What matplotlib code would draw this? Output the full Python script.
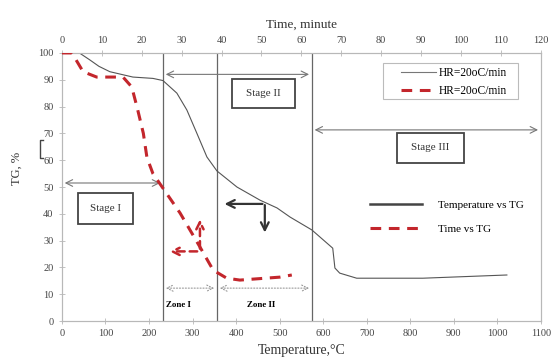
import matplotlib.pyplot as plt
from matplotlib.lines import Line2D
from matplotlib.patches import Rectangle

# temperature vs TG (bottom axis)
temp_c = [0, 40, 64, 85, 110, 163, 209, 232, 264, 287, 310, 333, 356, 402,
          455, 494, 524, 574, 622, 627, 638, 677, 829, 1022]
tg_temp = [100, 100, 97.4, 95, 93, 91, 90.5, 89.7, 85, 78.7, 70, 61.2, 56, 50,
           45.1, 42.2, 38.8, 34, 27.2, 19.8, 17.9, 16, 16, 17.2]

# time vs TG (top axis)
time_min = [0, 2.5, 5.3, 8.7, 15.3, 17.5, 19, 20.4, 21.3, 22.8, 25.3, 29.6,
            34.6, 37.9, 41.3, 44.6, 54.6, 57.6]
tg_time = [100, 100, 93, 91, 91, 87.3, 78.7, 70, 61, 55, 49.6, 40.3,
           27.6, 19, 16, 15.3, 16.4, 17.2]

stage_bounds = [232, 356, 574]
stage_names = ['Stage I', 'Stage II', 'Stage III']
zone_names = ['Zone I', 'Zone II']
temp_ticks = list(range(0, 1101, 100))
time_ticks = list(range(0, 121, 10))
tg_ticks = list(range(0, 101, 10))

RED = '#c3262c'
GRAY = '#b8b8b8'
plt.rcParams['font.family'] = ['Liberation Serif', 'DejaVu Serif']

fig = plt.figure(figsize=(5.53, 3.6), dpi=100)
ax = fig.add_axes([0.112, 0.108, 0.866, 0.745])
ax2 = ax.twiny()

ax.set_xlim(0, 1100)
ax.set_ylim(0, 100)
ax2.set_xlim(0, 120)

for a in (ax, ax2):
    for s in a.spines.values():
        s.set_color(GRAY)
        s.set_linewidth(0.8)
    a.tick_params(colors=GRAY, labelcolor='#444444', labelsize=7.5, length=5,
                  width=0.6, direction='inout')

ax.set_xticks(temp_ticks)
ax.set_yticks(tg_ticks)
ax2.set_xticks(time_ticks)

ax.set_xlabel('Temperature,°C', fontsize=10, color='#333333', labelpad=4)
ax2.set_xlabel('Time, minute', fontsize=9.5, color='#333333', labelpad=6)
ax.set_ylabel('TG, %', fontsize=9, color='#333333')
ax.yaxis.set_label_coords(-0.082, 0.571)

# odd little bracket next to the y label
fig.add_artist(Line2D([0.078, 0.072, 0.072, 0.078], [0.611, 0.611, 0.561, 0.561],
                      color='#444444', lw=1.0))

# curves
ax.plot(temp_c, tg_temp, color='#555555', lw=0.8, zorder=3)
ax2.plot(time_min, tg_time, color=RED, lw=2.2, dashes=(3.5, 2.5), zorder=3)

# stage boundaries
for b in stage_bounds:
    ax.axvline(b, color='#666666', lw=0.9, zorder=2)

arr = dict(arrowstyle='<->', color='#777777', lw=0.8, mutation_scale=12)
ax.annotate('', xy=(0, 51.5), xytext=(stage_bounds[0], 51.5), arrowprops=arr)
ax.annotate('', xy=(stage_bounds[0], 92), xytext=(stage_bounds[2], 92), arrowprops=arr)
ax.annotate('', xy=(stage_bounds[2], 71.3), xytext=(1100, 71.3), arrowprops=arr)

# stage boxes: (x0, y0, width, height) in data units
stage_boxes = [(37, 36.2, 126, 11.6), (390, 79.5, 145, 10.8), (769, 59, 154, 11.1)]
for name, (x0, y0, w, h) in zip(stage_names, stage_boxes):
    ax.add_patch(Rectangle((x0, y0), w, h, fc='white', ec='#444444', lw=1.3, zorder=4))
    ax.text(x0 + w / 2, y0 + h / 2, name, fontsize=8, ha='center', va='center',
            color='#333333', zorder=5)

# zones
zarr = dict(arrowstyle='<->', color='#999999', lw=0.8, ls=':', mutation_scale=11)
ax.annotate('', xy=(stage_bounds[0], 12.3), xytext=(stage_bounds[1], 12.3), arrowprops=zarr)
ax.annotate('', xy=(stage_bounds[1], 12.3), xytext=(stage_bounds[2], 12.3), arrowprops=zarr)
ax.text(268, 6, zone_names[0], fontsize=6.5, fontweight='bold', ha='center', va='center')
ax.text(458, 6, zone_names[1], fontsize=6.5, fontweight='bold', ha='center', va='center')

# black arrows
barr = dict(arrowstyle='->', color='#333333', lw=1.6, mutation_scale=14)
ax.annotate('', xy=(367, 43.7), xytext=(467, 43.7), arrowprops=barr)
ax.annotate('', xy=(466, 32), xytext=(466, 44.3), arrowprops=barr)

# red dashed arrows
rarr = dict(arrowstyle='->', color=RED, lw=1.8, ls=(0, (3, 2)), mutation_scale=13)
ax.annotate('', xy=(241, 26), xytext=(317, 26), arrowprops=rarr)
ax.annotate('', xy=(317, 39), xytext=(317, 26), arrowprops=rarr)

# legend 1 (frame drawn separately, the box is wider than its content)
ax.add_patch(Rectangle((0.67, 0.828), 0.282, 0.135, transform=ax.transAxes,
                       fc='white', ec='#bbbbbb', lw=0.8, zorder=5))
h1 = [Line2D([], [], color='#777777', lw=0.8),
      Line2D([], [], color=RED, lw=2.2, dashes=(3.5, 2.5))]
leg1 = ax.legend(h1, ['HR=20oC/min', 'HR=20oC/min'], loc='upper left',
                 bbox_to_anchor=(0.708, 0.946), borderaxespad=0, borderpad=0,
                 fontsize=8.3, frameon=False, handlelength=3.0,
                 handletextpad=0.25, labelspacing=0.5)
leg1.set_zorder(6)
ax.add_artist(leg1)

h2 = [Line2D([], [], color='#444444', lw=1.8),
      Line2D([], [], color=RED, lw=2.2, dashes=(3.5, 2.5))]
ax.legend(h2, ['Temperature vs TG', 'Time vs TG'], loc='upper left',
          bbox_to_anchor=(0.643, 0.452), borderaxespad=0, borderpad=0,
          fontsize=8, frameon=False, handlelength=4.7, labelspacing=1.3,
          handletextpad=1.45)

fig.savefig('out.png', dpi=100)
